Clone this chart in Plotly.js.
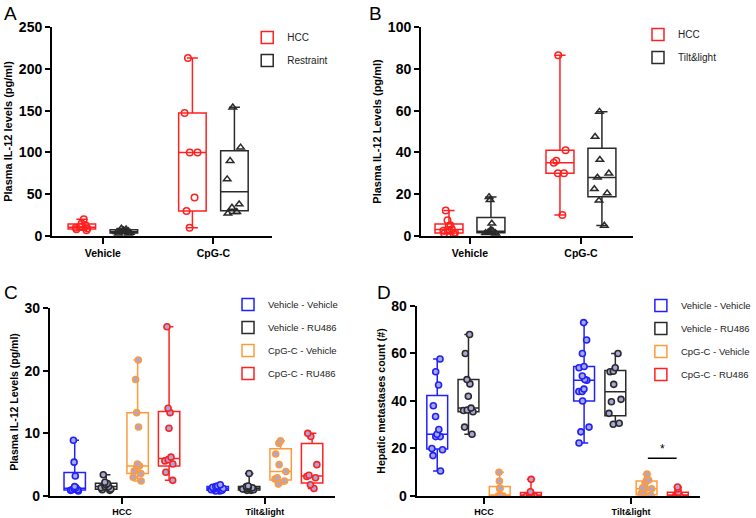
<!DOCTYPE html>
<html><head><meta charset="utf-8">
<script src="https://cdn.plot.ly/plotly-3.0.1.min.js"></script>
<style>
html,body{margin:0;padding:0;background:#fff}
.pnl{position:absolute;left:0;top:0;width:756px;height:518px}
</style>
</head><body>
<div id="pA" class="pnl"></div><div id="pB" class="pnl"></div><div id="pC" class="pnl"></div><div id="pD" class="pnl"></div>
<script>
// ---------- data ----------
const catsAB = ['Vehicle', 'CpG-C'];
const catsCD = ['HCC', 'Tilt&light'];
// Panel A: Plasma IL-12 (pg/ml)
const aHCC = [[20, 15, 13, 11, 10, 9, 8, 7], [213, 147, 100, 100, 46, 30, 10]];
const aRestraint = [[9, 8, 7, 6, 5, 5, 4, 3, 3], [154, 106, 90, 68, 38, 34, 29, 27]];
// Panel B
const bHCC = [[12.2, 7.5, 5.2, 4.8, 3.2, 3, 2.5, 1.5, 1.2, 1.0], [86.5, 41, 36, 35, 30, 30, 10]];
const bTilt = [[18.7, 17.3, 6, 3, 2.5, 2, 1.8, 1.5, 1.5, 1.2], [59.5, 47.5, 36.5, 30, 28, 22.5, 20.5, 17, 5]];
// Panel C
const cVehVeh = [[8.9, 5.4, 3.2, 1.5, 1.3, 1.2, 1.0, 1.0, 0.9, 0.8], [1.8, 1.6, 1.5, 1.4, 1.3, 1.2, 1.1, 1.0, 0.9, 0.8, 0.8]];
const cVehRU = [[3.4, 2.2, 2.0, 1.8, 1.5, 1.5, 1.3, 1.1, 1.0, 0.9], [3.6, 1.6, 1.5, 1.4, 1.3, 1.2, 1.1, 1.0, 0.9, 0.9]];
const cCpGVeh = [[21.7, 18.6, 13.3, 11, 5.1, 4.8, 4.6, 4.0, 3.6, 3.0, 2.4], [8.8, 8.4, 6.7, 5.0, 3.9, 2.9, 2.7, 2.4, 1.9]];
const cCpGRU = [[27, 14, 13.3, 10.8, 6.2, 5.8, 5.6, 5.1, 3.8, 2.5], [10, 9.5, 5.0, 3.3, 3.1, 2.9, 1.8, 1.2]];
// Panel D: Hepatic metastases count
const dVehVeh = [[57.7, 52.3, 46.7, 38, 33.5, 28, 26, 25, 25, 20, 19.5, 17, 10.5], [73, 65.7, 60, 54.5, 54, 50.5, 49, 48.7, 45, 44, 44, 40, 29, 27, 22.3]];
const dVehRU = [[68, 60, 49, 47.2, 42, 37, 36.2, 36, 35.5, 29, 26], [60, 54, 52.5, 52.3, 47, 40.7, 39.7, 34.8, 30.6, 30.2]];
const dCpGVeh = [[10, 6.3, 3.3, 3.1, 0, 0, 0, 0, 0, 0], [9.2, 6.7, 6.6, 5.4, 3.3, 3.2, 3.0, 1.7, 1.0, 0.3, 0, 0]];
const dCpGRU = [[7, 1.8, 1.5, 0.3, 0, 0, 0, 0, 0, 0, 0], [3.8, 3.0, 1.6, 1.5, 1.0, 0.5, 0, 0, 0, 0, 0, 0]];
const seriesAB_A = ['HCC', 'Restraint'];
const seriesAB_B = ['HCC', 'Tilt&light'];
const seriesCD = ['Vehicle - Vehicle', 'Vehicle - RU486', 'CpG-C - Vehicle', 'CpG-C - RU486'];

// ---------- helpers ----------
const FONT = 'Liberation Sans, Arial, Helvetica, sans-serif';
const RED = '#ff2020', BLK = '#2a2a2a', BLUE = '#2020ff', ORG = '#ff9a3c', LAV = '#a8a8d8';

function quart(vals) {
  const s = [...vals].sort((a, b) => a - b), n = s.length;
  const q = p => { const h = (n + 1) * p; if (h <= 1) return s[0]; if (h >= n) return s[n - 1];
    const lo = Math.floor(h); return s[lo - 1] + (h - lo) * (s[lo] - s[lo - 1]); };
  return {q1: q(0.25), med: q(0.5), q3: q(0.75), min: s[0], max: s[n - 1]};
}
function series(name, cats, groups, color, marker) {
  const st = groups.map(quart);
  return {type: 'box', name: name, x: cats, y: groups,
    q1: st.map(s => s.q1), median: st.map(s => s.med), q3: st.map(s => s.q3),
    lowerfence: st.map(s => s.min), upperfence: st.map(s => s.max),
    boxpoints: 'all', pointpos: 0, jitter: 0.65, whiskerwidth: 0.4,
    fillcolor: 'rgba(0,0,0,0)', line: {color: color, width: 1.5},
    marker: marker, legendgroup: name, hoverinfo: 'skip'};
}
function openMk(color, sym) { return {symbol: sym, size: 6.5, color: color, line: {color: color, width: 1.5}}; }
function fillMk(color) { return {symbol: 'circle', size: 6, color: LAV, line: {color: color, width: 1.6}}; }

function layoutFor(p) {
  const axLine = {showline: true, linewidth: 2, linecolor: '#000', ticks: 'outside', tickwidth: 2,
    tickcolor: '#000', showgrid: false, zeroline: false, fixedrange: true};
  return {
    width: 756, height: 518, margin: {l: 0, r: 0, t: 0, b: 0},
    paper_bgcolor: 'rgba(0,0,0,0)', plot_bgcolor: 'rgba(0,0,0,0)',
    font: {family: FONT, color: '#000'}, showlegend: true,
    boxmode: 'group', boxgap: p.boxgap, boxgroupgap: p.bgg,
    xaxis: Object.assign({}, axLine, {domain: p.xd, type: 'category', range: p.xr, ticklen: 6,
      tickfont: {size: p.csize, weight: 'bold'}}),
    yaxis: Object.assign({}, axLine, {domain: p.yd, range: p.yr, dtick: p.dtick, ticklen: 5,
      tickfont: {size: 14, weight: 'bold'},
      title: {text: p.ytitle, font: {size: p.tsize, weight: 'bold'}, standoff: p.standoff}}),
    legend: {x: p.lx, y: p.ly, xanchor: 'left', yanchor: 'top', font: {size: p.lsize, color: '#222'},
      traceorder: 'grouped', tracegroupgap: p.tgap, bgcolor: 'rgba(0,0,0,0)'},
    annotations: [{text: p.letter, x: p.letx, y: p.lety, xref: 'paper', yref: 'paper',
      xanchor: 'left', yanchor: 'top', showarrow: false, font: {size: 19, color: '#000'}}].concat(p.extraAnn || []),
    shapes: p.shapes || []
  };
}
const cfg = {staticPlot: true, displayModeBar: false};

// Panel A
Plotly.newPlot('pA', [
  series(seriesAB_A[0], catsAB, aHCC, RED, openMk(RED, 'circle-open')),
  series(seriesAB_A[1], catsAB, aRestraint, BLK, openMk(BLK, 'triangle-up-open'))
], layoutFor({xd: [0.0688, 0.3598], yd: [0.5444, 0.9479], xr: [-0.46, 1.53], yr: [0, 250], dtick: 50,
  boxgap: 0.24, bgg: 0.345, csize: 10.5, ytitle: 'Plasma IL-12 levels (pg/ml)', tsize: 11, standoff: 4,
  lx: 0.327, ly: 0.9556, lsize: 10, tgap: 4, letter: 'A', letx: 0.002, lety: 0.999}), cfg);

// Panel B
Plotly.newPlot('pB', [
  series(seriesAB_B[0], catsAB, bHCC, RED, openMk(RED, 'circle-open')),
  series(seriesAB_B[1], catsAB, bTilt, BLK, openMk(BLK, 'triangle-up-open'))
], layoutFor({xd: [0.5569, 0.8373], yd: [0.5444, 0.9479], xr: [-0.441, 1.469], yr: [0, 100], dtick: 20,
  boxgap: 0.244, bgg: 0.333, csize: 10.5, ytitle: 'Plasma IL-12 Levels (pg/ml)', tsize: 11, standoff: 4,
  lx: 0.8439, ly: 0.9614, lsize: 10, tgap: 4, letter: 'B', letx: 0.486, lety: 0.999}), cfg);

// Panel C
Plotly.newPlot('pC', [
  series(seriesCD[0], catsCD, cVehVeh, BLUE, fillMk(BLUE)),
  series(seriesCD[1], catsCD, cVehRU, BLK, fillMk(BLK)),
  series(seriesCD[2], catsCD, cCpGVeh, ORG, fillMk(ORG)),
  series(seriesCD[3], catsCD, cCpGRU, RED, fillMk(RED))
], layoutFor({xd: [0.0661, 0.4431], yd: [0.04247, 0.4054], xr: [-0.503, 1.49], yr: [0, 30], dtick: 10,
  boxgap: 0.12, bgg: 0.32, csize: 9, ytitle: 'Plasma IL-12 Levels (pg/ml)', tsize: 10.5, standoff: 4,
  lx: 0.3016, ly: 0.4401, lsize: 9.5, tgap: 4, letter: 'C', letx: 0.002, lety: 0.46}), cfg);

// Panel D
Plotly.newPlot('pD', [
  series(seriesCD[0], catsCD, dVehVeh, BLUE, fillMk(BLUE)),
  series(seriesCD[1], catsCD, dVehRU, BLK, fillMk(BLK)),
  series(seriesCD[2], catsCD, dCpGVeh, ORG, fillMk(ORG)),
  series(seriesCD[3], catsCD, dCpGRU, RED, fillMk(RED))
], layoutFor({xd: [0.5556, 0.9339], yd: [0.04247, 0.4093], xr: [-0.459, 1.473], yr: [0, 80], dtick: 20,
  boxgap: 0.149, bgg: 0.333, csize: 9, ytitle: 'Hepatic metastases count (#)', tsize: 10.5, standoff: 4,
  lx: 0.8545, ly: 0.4382, lsize: 9.5, tgap: 4, letter: 'D', letx: 0.5, lety: 0.46,
  shapes: [{type: 'line', xref: 'x', yref: 'y', x0: 1.115, x1: 1.311, y0: 15.9, y1: 15.9, line: {color: '#000', width: 1.5}}],
  extraAnn: [{text: '*', x: 1.213, y: 15.9, xref: 'x', yref: 'y', xanchor: 'center', yanchor: 'bottom', showarrow: false, font: {size: 12, color: '#000'}}]
}), cfg);
</script>
</body></html>
